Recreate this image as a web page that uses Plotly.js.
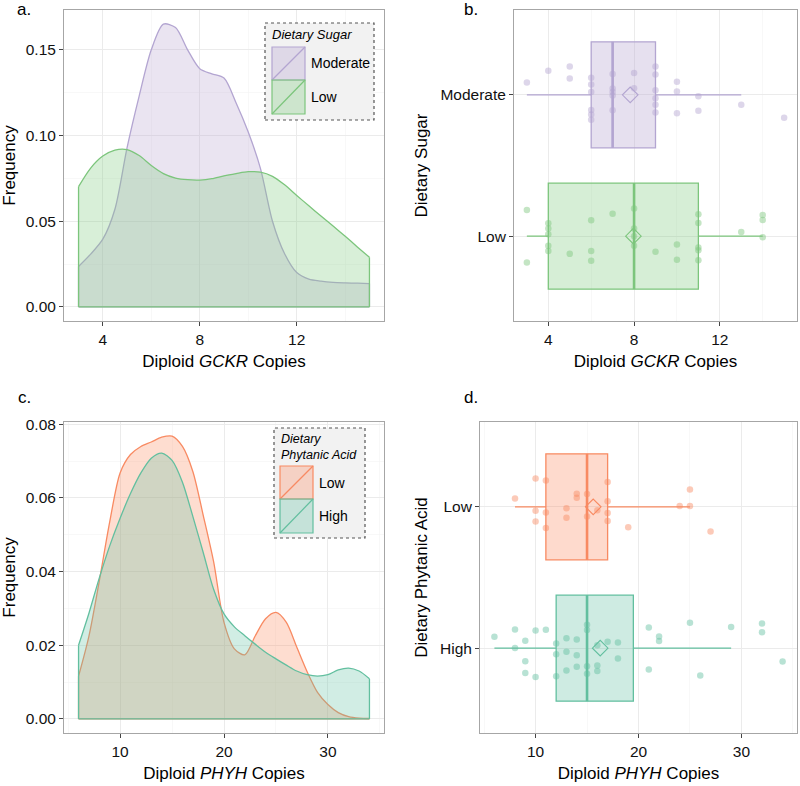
<!DOCTYPE html>
<html>
<head>
<meta charset="utf-8">
<script src="https://cdn.plot.ly/plotly-3.0.1.min.js"></script>
<style>html,body{margin:0;padding:0;background:#fff;}#chart{width:800px;height:786px;}</style>
</head>
<body>
<div id="chart"></div>
<script>
// ---------- Panel a: density of GCKR copies by dietary sugar ----------
const gckrX = [3,3.5,4,4.5,5,5.5,6,6.5,7,7.5,8,8.5,9,9.5,10,10.5,11,11.5,12,12.5,13,13.5,14,14.5,15];
const gckrModerate = [0.0236,0.0308,0.0395,0.057,0.0928,0.123,0.150,0.165,0.163,0.150,0.139,0.136,0.1335,0.119,0.102,0.081,0.050,0.031,0.020,0.0162,0.0150,0.0143,0.0140,0.0138,0.0136];
const gckrLow = [0.0702,0.081,0.088,0.0915,0.0918,0.0883,0.0825,0.0778,0.0752,0.0742,0.0740,0.0748,0.0765,0.0778,0.0789,0.0786,0.0762,0.0712,0.0650,0.0590,0.0530,0.0472,0.0412,0.0350,0.0289];

// ---------- Panel c: density of PHYH copies by dietary phytanic acid ----------
const phyhX = [6,7,8,9,10,11,12,13,14,15,16,17,18,19,20,21,22,23,24,25,26,27,28,29,30,31,32,33,34];
const phyhLow = [0.0116,0.0225,0.0375,0.0535,0.0668,0.0718,0.0740,0.0752,0.0765,0.0768,0.0740,0.0672,0.0553,0.0427,0.0262,0.0190,0.0174,0.0225,0.0272,0.0289,0.0262,0.0195,0.0128,0.0072,0.0039,0.0017,0.0006,0.0002,0.0001];
const phyhHigh = [0.020,0.0287,0.0383,0.047,0.0545,0.0612,0.0668,0.0708,0.0722,0.0702,0.0643,0.0550,0.0452,0.0352,0.0285,0.0250,0.0226,0.0203,0.0181,0.0163,0.0146,0.0130,0.0120,0.0116,0.0120,0.0133,0.0138,0.0130,0.0109];

// ---------- Panel b: box plots, GCKR ----------
const sugarCats = ['Low','Moderate'];
const sugarQ1 = [4,6];
const sugarMedian = [8,7];
const sugarQ3 = [11,9];
const sugarLoW = [3,3];
const sugarHiW = [14,13];
const sugarMean = [7.97,7.82];
const sugarLowPtsX = [3,3,4,4,4,4,4,5,6,6,6,7,8,8,8,8,9,10,10,11,11,11,11,11,13,14,14,14];
const sugarLowPtsJ = [0.186,-0.186,0.092,0.054,0.014,-0.068,-0.104,-0.125,0.113,-0.104,-0.174,0.158,0.195,0.054,0.0,-0.068,-0.11,-0.059,-0.167,0.155,0.094,-0.08,-0.099,-0.17,0.03,0.15,0.115,-0.007];
const sugarModPtsX = [3,4,5,5,6,6,6,6,6,6,7,7,7,7,7,8,8,9,9,9,9,9,9,10,10,10,11,11,13,15];
const sugarModPtsJ = [0.087,0.17,0.20,0.115,0.12,0.073,0.02,-0.108,-0.139,-0.176,0.148,0.045,0.02,-0.005,-0.11,0.155,0.047,0.2,0.143,0.033,-0.024,-0.07,-0.125,0.092,0.024,-0.13,-0.01,-0.113,-0.07,-0.162];

// ---------- Panel d: box plots, PHYH ----------
const phytCats = ['High','Low'];
const phytQ1 = [12,11];
const phytMedian = [15,15];
const phytQ3 = [19.5,17];
const phytLoW = [6,8];
const phytHiW = [29,25];
const phytMean = [16.28,15.6];
const phytHighPtsX = [6,8,8,9,9,9,10,10,11,12,12,12,13,13,13,14,14,14,15,15,15,15,16,16,16,17,18,18,21,21,22,22,25,26,29,32,32,34];
const phytHighPtsJ = [0.08,0.132,0.002,0.052,-0.092,-0.175,0.125,-0.203,0.13,0.033,-0.043,-0.199,0.071,-0.026,-0.158,0.061,-0.05,-0.132,0.165,0.128,-0.128,-0.18,0.021,-0.123,-0.161,0.045,0.04,-0.073,0.147,-0.151,0.083,0.05,0.18,-0.194,0.149,0.175,0.113,-0.095];
const phytLowPtsX = [8,10,10,10,11,11,11,13,13,14,14,15,15,16,17,17,17,17,19,24,25,25,27];
const phytLowPtsJ = [0.059,0.2,-0.028,-0.104,0.187,-0.04,-0.149,-0.01,-0.078,0.092,0.064,0.09,-0.069,-0.024,0.175,0.04,-0.043,-0.1,-0.144,0.005,0.123,0.005,-0.175];

// ---------- styling ----------
const FONT = 'Liberation Sans, Arial, Helvetica, sans-serif';
const COL = {
  purple: '#b3a5d1', purpleFill: 'rgba(190,174,212,0.33)', purpleBox: 'rgba(190,174,212,0.38)',
  green: '#7cc57c', greenFill: 'rgba(127,201,127,0.30)', greenBox: 'rgba(127,201,127,0.32)',
  orange: '#f88a62', orangeFill: 'rgba(252,141,98,0.30)', orangeBox: 'rgba(252,141,98,0.32)',
  teal: '#62bf9f', tealFill: 'rgba(102,194,165,0.30)', tealBox: 'rgba(102,194,165,0.32)'
};
const W = 800, H = 786;
const px = x => x / W, py = y => 1 - y / H;

function expand(lo, hi) { const d = (hi - lo) * 0.05; return [lo - d, hi + d]; }

const traces = [];

function density(xs, ys, line, fill, xa, ya) {
  traces.push({type:'scatter', mode:'lines', x: xs, y: ys, fill:'tozeroy', fillcolor: fill,
    line:{color: line, width: 1.3, shape:'spline', smoothing: 0.8}, xaxis: xa, yaxis: ya, hoverinfo:'skip', showlegend:false});
  const n = xs.length - 1;
  traces.push({type:'scatter', mode:'lines',
    x: [xs[0], xs[0], null, xs[n], xs[n], null, xs[0], xs[n]],
    y: [ys[0], 0, null, ys[n], 0, null, 0, 0],
    line:{color: line, width: 1.3}, xaxis: xa, yaxis: ya, hoverinfo:'skip', showlegend:false});
}

density(gckrX, gckrModerate, COL.purple, COL.purpleFill, 'x', 'y');
density(gckrX, gckrLow, COL.green, COL.greenFill, 'x', 'y');
density(phyhX, phyhLow, COL.orange, COL.orangeFill, 'x3', 'y3');
density(phyhX, phyhHigh, COL.teal, COL.tealFill, 'x3', 'y3');

const BOXW = 0.75;
function boxGroup(pos, q1, med, q3, lo, hi, mean, ptsX, ptsJ, line, fill, xa, ya) {
  traces.push({type:'box', orientation:'h', y:[pos], q1:[q1], median:[med], q3:[q3], lowerfence:[lo], upperfence:[hi],
    width: BOXW, whiskerwidth: 0, fillcolor: fill, line:{color: line, width: 1.3}, boxpoints: false,
    xaxis: xa, yaxis: ya, hoverinfo:'skip', showlegend:false});
  traces.push({type:'scatter', mode:'markers', x: ptsX, y: ptsJ.map(j => pos + j),
    marker:{color: line, size: 6.5, opacity: 0.45, line:{width:0}}, xaxis: xa, yaxis: ya, hoverinfo:'skip', showlegend:false});
  traces.push({type:'scatter', mode:'lines', x:[med, med], y:[pos - BOXW/2, pos + BOXW/2],
    line:{color: line, width: 2.6}, xaxis: xa, yaxis: ya, hoverinfo:'skip', showlegend:false});
  traces.push({type:'scatter', mode:'markers', x:[mean], y:[pos],
    marker:{symbol:'diamond-open', size: 12, color: line, line:{width: 1.1, color: line}}, xaxis: xa, yaxis: ya, hoverinfo:'skip', showlegend:false});
}

const sugarColors = [[COL.green, COL.greenBox], [COL.purple, COL.purpleBox]];
const sugarPts = [[sugarLowPtsX, sugarLowPtsJ], [sugarModPtsX, sugarModPtsJ]];
sugarCats.forEach((c, i) => boxGroup(i + 1, sugarQ1[i], sugarMedian[i], sugarQ3[i], sugarLoW[i], sugarHiW[i], sugarMean[i],
  sugarPts[i][0], sugarPts[i][1], sugarColors[i][0], sugarColors[i][1], 'x2', 'y2'));

const phytColors = [[COL.teal, COL.tealBox], [COL.orange, COL.orangeBox]];
const phytPts = [[phytHighPtsX, phytHighPtsJ], [phytLowPtsX, phytLowPtsJ]];
phytCats.forEach((c, i) => boxGroup(i + 1, phytQ1[i], phytMedian[i], phytQ3[i], phytLoW[i], phytHiW[i], phytMean[i],
  phytPts[i][0], phytPts[i][1], phytColors[i][0], phytColors[i][1], 'x4', 'y4'));

// ---------- axes ----------
const tickFont = {family: FONT, size: 15.5, color: '#111'};
const titleFont = {family: FONT, size: 17, color: '#000'};
function axis(domain, range, dtick, minorDtick, anchor, title, extra) {
  return Object.assign({
    domain: domain, range: range, anchor: anchor, dtick: dtick, tick0: 0,
    showline: true, mirror: true, linecolor: '#a6a6a6', linewidth: 1,
    ticks: 'outside', ticklen: 4, tickcolor: '#444', tickwidth: 1,
    showgrid: true, gridcolor: '#ebebeb', gridwidth: 1, zeroline: false,
    minor: {dtick: minorDtick, tick0: 0, showgrid: true, gridcolor: '#f4f4f4', gridwidth: 0.6, ticks: ''},
    tickfont: tickFont, title: {text: title, font: titleFont, standoff: 8}
  }, extra || {});
}

const xDomL = [px(64), px(384)], xDomB = [px(514), px(797)], xDomD = [px(480), px(797)];
const yDomTop = [py(321), py(10)], yDomBot = [py(733), py(422)];

const aY = expand(0, Math.max(...gckrModerate, ...gckrLow));
const cY = expand(0, Math.max(...phyhLow, ...phyhHigh));
const catRange = [0.4, 2.6];

const layout = {
  width: W, height: H, margin: {l:0, r:0, t:0, b:0}, paper_bgcolor: '#fff', plot_bgcolor: '#fff',
  showlegend: false, font: {family: FONT},
  xaxis: axis(xDomL, expand(3, 15), 4, 2, 'y', 'Diploid <i>GCKR</i> Copies'),
  yaxis: axis(yDomTop, aY, 0.05, 0.025, 'x', 'Frequency', {tickformat: '.2f'}),
  xaxis2: axis(xDomB, expand(3, 15), 4, 2, 'y2', 'Diploid <i>GCKR</i> Copies'),
  yaxis2: axis(yDomTop, catRange, 1, 1, 'x2', 'Dietary Sugar', {tickvals: [1,2], ticktext: sugarCats, minor: {showgrid:false}}),
  xaxis3: axis(xDomL, expand(6, 34), 10, 5, 'y3', 'Diploid <i>PHYH</i> Copies'),
  yaxis3: axis(yDomBot, cY, 0.02, 0.01, 'x3', 'Frequency', {tickformat: '.2f'}),
  xaxis4: axis(xDomD, expand(6, 34), 10, 5, 'y4', 'Diploid <i>PHYH</i> Copies'),
  yaxis4: axis(yDomBot, catRange, 1, 1, 'x4', 'Dietary Phytanic Acid', {tickvals: [1,2], ticktext: phytCats, minor: {showgrid:false}}),
  shapes: [], annotations: []
};

// ---------- panel letters ----------
[['a.', 15, 10], ['b.', 462, 10], ['c.', 16, 397], ['d.', 462, 397]].forEach(([t, x, y]) => {
  layout.annotations.push({text: t, xref:'paper', yref:'paper', x: px(x), y: py(y), xanchor:'left', yanchor:'middle',
    showarrow:false, font:{family: FONT, size: 17, color:'#000'}});
});

// ---------- custom legends ----------
function legendBox(x0, y0, x1, y1) {
  layout.shapes.push({type:'rect', xref:'paper', yref:'paper', x0: px(x0), x1: px(x1), y0: py(y1), y1: py(y0),
    fillcolor:'#f2f2f2', line:{color:'#555', width:1.2, dash:'dot'}, layer:'above'});
}
function legendKey(x0, y0, x1, y1, line, fill, label) {
  layout.shapes.push({type:'rect', xref:'paper', yref:'paper', x0: px(x0), x1: px(x1), y0: py(y1), y1: py(y0),
    fillcolor: fill, line:{color: line, width: 1.2}, layer:'above'});
  layout.shapes.push({type:'line', xref:'paper', yref:'paper', x0: px(x0), x1: px(x1), y0: py(y1), y1: py(y0),
    line:{color: line, width: 1.2}, layer:'above'});
  layout.annotations.push({text: label, xref:'paper', yref:'paper', x: px(x1 + 4), y: py((y0 + y1) / 2),
    xanchor:'left', yanchor:'middle', showarrow:false, font:{family: FONT, size: 14, color:'#000'}});
}
function legendTitle(text, x, y, size) {
  layout.annotations.push({text: text, xref:'paper', yref:'paper', x: px(x), y: py(y),
    xanchor:'left', yanchor:'middle', align:'left', showarrow:false, borderpad: 0,
    font:{family: FONT, size: size, color:'#000', style:'italic'}});
}

legendBox(265, 23, 374, 120);
legendTitle('Dietary Sugar', 271, 35, 13);
legendKey(272, 47, 305, 80, COL.purple, COL.purpleBox, 'Moderate');
legendKey(272, 80, 305, 114, COL.green, COL.greenBox, 'Low');

legendBox(274, 428, 365, 538);
legendTitle('Dietary<br>Phytanic Acid', 280, 447, 12.5);
legendKey(280, 466, 313, 499, COL.orange, COL.orangeBox, 'Low');
legendKey(280, 499, 313, 533, COL.teal, COL.tealBox, 'High');

Plotly.newPlot('chart', traces, layout, {displayModeBar: false, staticPlot: true});
</script>
</body>
</html>
